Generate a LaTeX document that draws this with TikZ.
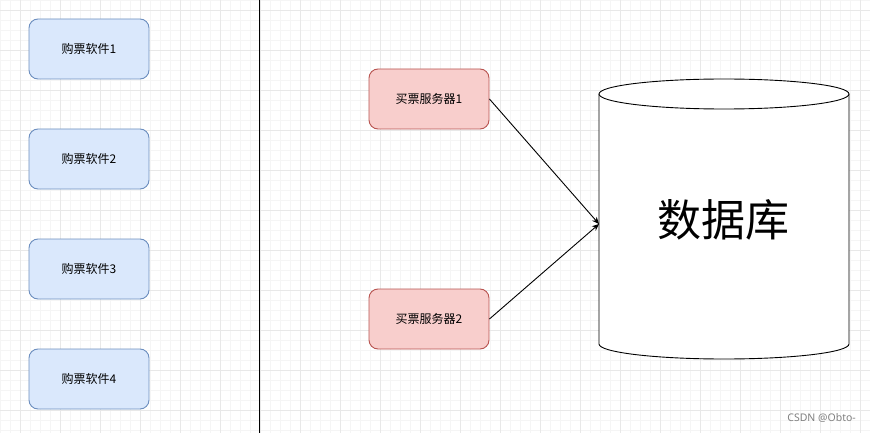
\documentclass[tikz,border=0pt]{standalone}
\usepackage{fontspec}
\setmainfont{Noto Sans CJK SC}
\newfontfamily\wmfont{Noto Sans}
\usetikzlibrary{arrows.meta}
\definecolor{bluefill}{HTML}{DAE8FC}
\definecolor{bluestroke}{HTML}{6C8EBF}
\definecolor{redfill}{HTML}{F8CECC}
\definecolor{redstroke}{HTML}{B85450}
\definecolor{gridminor}{HTML}{F5F5F5}
\definecolor{gridmajor}{HTML}{E8E8E8}
\tikzset{
  appbox/.style={draw=bluestroke, fill=bluefill, rounded corners=9pt, minimum width=120pt, minimum height=60pt, inner sep=0pt, font=\fontsize{12pt}{14pt}\selectfont, line width=0.9pt},
  srvbox/.style={draw=redstroke, fill=redfill, rounded corners=9pt, minimum width=120pt, minimum height=60pt, inner sep=0pt, font=\fontsize{12pt}{14pt}\selectfont, line width=0.9pt},
  link/.style={draw=black, line width=0.9pt, -{Stealth[length=7pt, width=6pt]}},
}
\begin{document}
\begin{tikzpicture}[x=1pt, y=-1pt]
\useasboundingbox (0,0) rectangle (870,433);
\fill[white] (0,0) rectangle (870,433);
% grid
\foreach \gx in {0,10,...,870} { \draw[gridminor, line width=0.8pt] (\gx,0) -- (\gx,433); }
\foreach \gy in {0,10,...,430} { \draw[gridminor, line width=0.8pt] (0,\gy) -- (870,\gy); }
\foreach \gx in {20,60,...,860} { \draw[gridmajor, line width=0.8pt] (\gx,0) -- (\gx,433); }
\foreach \gy in {10,50,...,430} { \draw[gridmajor, line width=0.8pt] (0,\gy) -- (870,\gy); }
% divider
\coordinate (dtop) at (259,0);
\coordinate (dbot) at (259,433);
\draw[black, line width=1pt] (dtop) -- (dbot);
% apps
\node[appbox] (a1) at (89,49) {购票软件1};
\node[appbox] (a2) at (89,159) {购票软件2};
\node[appbox] (a3) at (89,269) {购票软件3};
\node[appbox] (a4) at (89,379) {购票软件4};
% servers
\node[srvbox] (s1) at (429,99) {买票服务器1};
\node[srvbox] (s2) at (429,319) {买票服务器2};
% database cylinder
\fill[white] (599,94) -- (599,344) arc[start angle=180, end angle=360, x radius=125pt, y radius=15pt] -- (849,94) -- cycle;
\draw[black, line width=0.9pt] (599,94) -- (599,344) arc[start angle=180, end angle=360, x radius=125pt, y radius=15pt] -- (849,94);
\draw[black, fill=white, line width=0.9pt] (724,94) ellipse[x radius=125pt, y radius=15pt];
\node[inner sep=0pt, font=\fontsize{44pt}{48pt}\selectfont] (db) at (723,220) {数据库};
\coordinate (dbin) at (599,224);
% links
\draw[link] (s1.east) -- (dbin);
\draw[link] (s2.east) -- (dbin);
% watermark
\node[anchor=east, inner sep=0pt, text=black!50, font=\wmfont\fontsize{10.5pt}{12pt}\selectfont] (wm) at (856,418) {CSDN @Obto-};
\end{tikzpicture}
\end{document}
